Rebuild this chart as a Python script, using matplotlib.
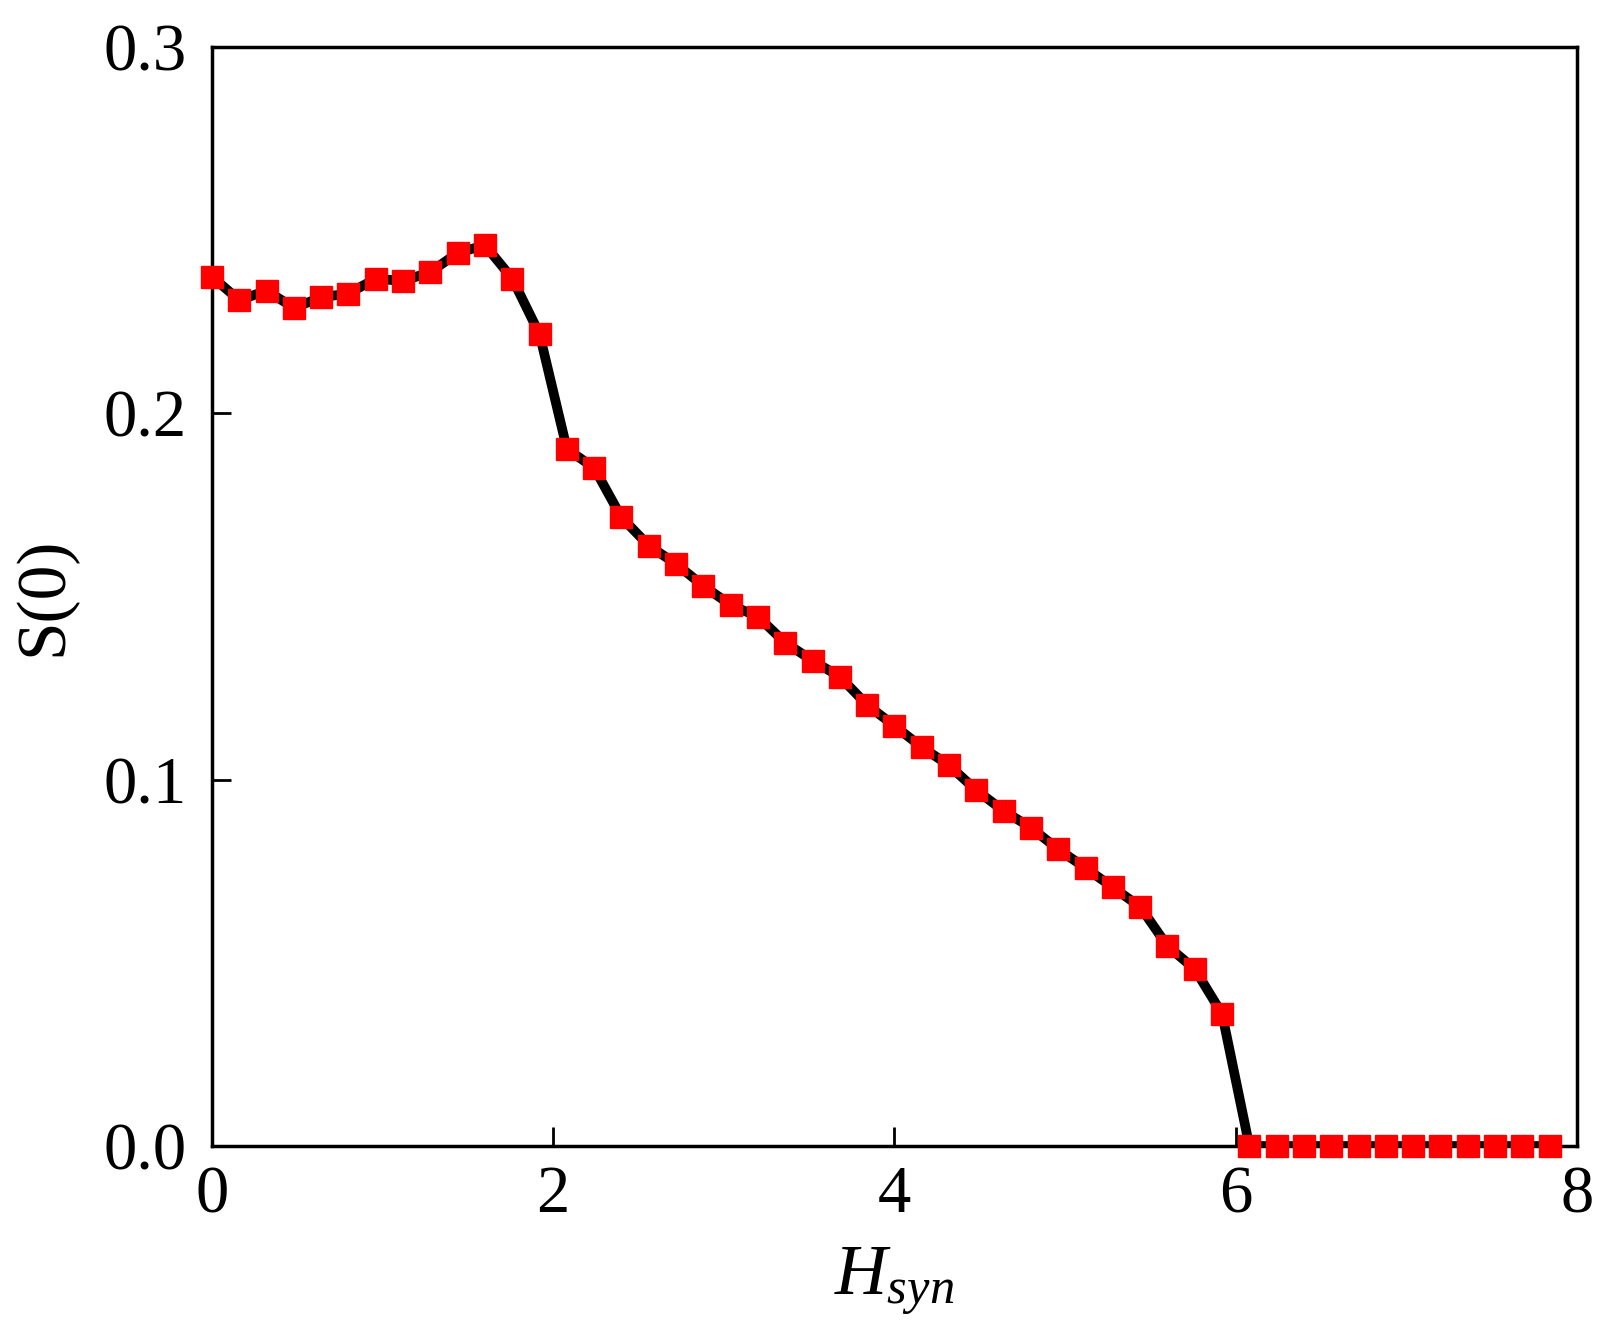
import matplotlib
matplotlib.use("Agg")
import matplotlib.pyplot as plt

# Data
h_syn = [0.00, 0.16, 0.32, 0.48, 0.64, 0.80, 0.96, 1.12, 1.28, 1.44,
         1.60, 1.76, 1.92, 2.08, 2.24, 2.40, 2.56, 2.72, 2.88, 3.04,
         3.20, 3.36, 3.52, 3.68, 3.84, 4.00, 4.16, 4.32, 4.48, 4.64,
         4.80, 4.96, 5.12, 5.28, 5.44, 5.60, 5.76, 5.92, 6.08, 6.24,
         6.40, 6.56, 6.72, 6.88, 7.04, 7.20, 7.36, 7.52, 7.68, 7.84]
s0 = [0.2373, 0.2309, 0.2335, 0.2288, 0.2317, 0.2327, 0.2368, 0.2361, 0.2386, 0.2438,
      0.2459, 0.2368, 0.2216, 0.1903, 0.1851, 0.1716, 0.1639, 0.1589, 0.1529, 0.1477,
      0.1445, 0.1374, 0.1325, 0.1281, 0.1204, 0.1147, 0.1089, 0.1039, 0.0971, 0.0915,
      0.0869, 0.0810, 0.0759, 0.0706, 0.0653, 0.0546, 0.0483, 0.0361, 0.0, 0.0,
      0.0, 0.0, 0.0, 0.0, 0.0, 0.0, 0.0, 0.0, 0.0, 0.0]

x_ticks = [0, 2, 4, 6, 8]
x_ticklabels = ["0", "2", "4", "6", "8"]
y_ticks = [0.0, 0.1, 0.2, 0.3]
y_ticklabels = ["0.0", "0.1", "0.2", "0.3"]

plt.rcParams['font.family'] = ['Liberation Serif', 'DejaVu Serif']
plt.rcParams['mathtext.fontset'] = 'custom'
plt.rcParams['mathtext.rm'] = 'Liberation Serif'
plt.rcParams['mathtext.it'] = 'Liberation Serif:italic'

fig = plt.figure(figsize=(16, 13.36), dpi=100)
ax = fig.add_axes([0.1325, 0.1422, 0.8531, 0.8226])

ax.plot(h_syn, s0, color='black', linewidth=7, zorder=2)
ax.plot(h_syn, s0, linestyle='none', marker='s', markersize=16.5,
        markerfacecolor='#ff0000', markeredgecolor='#ff0000', zorder=3, clip_on=False)

ax.set_xlim(0, 8)
ax.set_ylim(0, 0.3)
ax.set_xticks(x_ticks)
ax.set_xticklabels(x_ticklabels)
ax.set_yticks(y_ticks)
ax.set_yticklabels(y_ticklabels)

for sp in ax.spines.values():
    sp.set_linewidth(2.5)

ax.tick_params(axis='both', direction='in', length=14, width=2, labelsize=48)
ax.tick_params(axis='x', pad=14)
ax.tick_params(axis='y', pad=18)

ax.set_xlabel(r'$H_{syn}$', fontsize=52, labelpad=14)
ax.set_ylabel('S(0)', fontsize=50, labelpad=20)

fig.savefig('out.png', dpi=100)
